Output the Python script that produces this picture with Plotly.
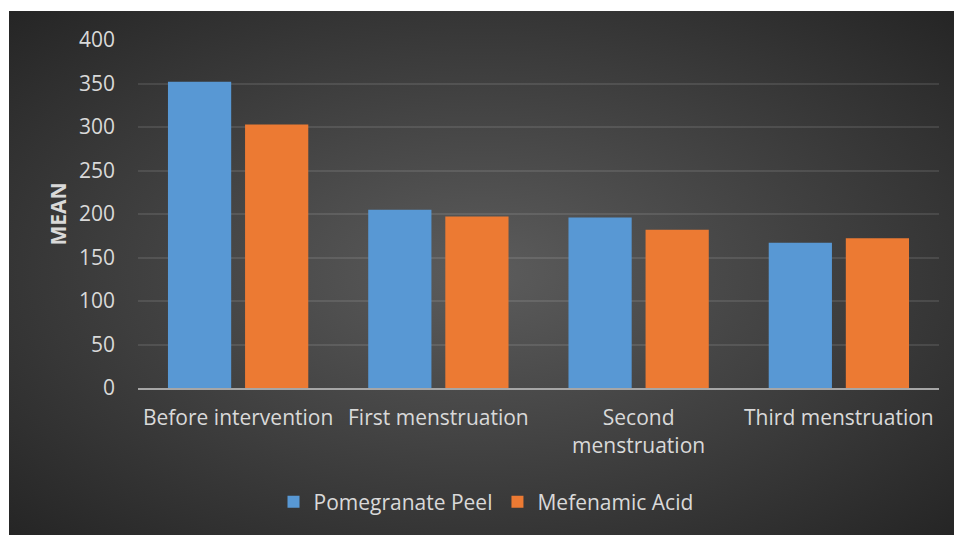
import base64
import plotly.graph_objects as go

categories = ["Before intervention", "First menstruation", "Second<br>menstruation", "Third menstruation"]
pomegranate_peel = [352, 205, 196, 167]
mefenamic_acid = [303, 197, 182, 172]
y_ticks = [0, 50, 100, 150, 200, 250, 300, 350, 400]

W, H = 954, 535
M_L, M_R, M_T, M_B = 138, 15, 40, 147
plot_w = W - M_L - M_R
plot_h = H - M_T - M_B

# radial dark-grey backdrop, drawn as an SVG image behind the plot
svg = """<svg xmlns='http://www.w3.org/2000/svg' width='945' height='524' preserveAspectRatio='none' viewBox='0 0 945 524'>
<defs><radialGradient id='g' cx='0.5' cy='0.5' r='0.72'>
<stop offset='0' stop-color='#5c5c5c'/><stop offset='1' stop-color='#242424'/>
</radialGradient></defs>
<rect x='0' y='0' width='945' height='524' fill='url(#g)'/></svg>"""
bg_uri = "data:image/svg+xml;base64," + base64.b64encode(svg.encode()).decode()

bg_left, bg_top, bg_right, bg_bottom = 9, 11, W, H

text_col = "#d9d9d9"
font_family = "Open Sans, DejaVu Sans, sans-serif"
fs = 21

fig = go.Figure()
fig.add_trace(go.Bar(
    x=categories, y=pomegranate_peel, name="Pomegranate Peel",
    marker=dict(color="#5898d4", line=dict(width=0)),
))
fig.add_trace(go.Bar(
    x=categories, y=mefenamic_acid, name="Mefenamic Acid",
    marker=dict(color="#ec7a33", line=dict(width=0)),
))

fig.update_layout(
    width=W, height=H,
    margin=dict(l=M_L, r=M_R, t=M_T, b=M_B),
    paper_bgcolor="white",
    plot_bgcolor="rgba(0,0,0,0)",
    barmode="group",
    bargap=0.23,
    bargroupgap=0.18,
    font=dict(family=font_family, size=fs, color=text_col),
    images=[dict(
        source=bg_uri, xref="paper", yref="paper",
        x=(bg_left - M_L) / plot_w, y=(M_T + plot_h - bg_top) / plot_h,
        sizex=(bg_right - bg_left) / plot_w, sizey=(bg_bottom - bg_top) / plot_h,
        xanchor="left", yanchor="top", sizing="stretch", layer="below",
    )],
    legend=dict(
        orientation="h", x=(486 - M_L) / plot_w, xanchor="center",
        y=(M_T + plot_h - 502) / plot_h, yanchor="middle",
        font=dict(size=fs, color=text_col), bgcolor="rgba(0,0,0,0)",
        itemwidth=30,
    ),
    showlegend=True,
)
fig.update_xaxes(
    showline=True, linecolor="#a6a6a6", linewidth=2,
    showgrid=False, ticks="", tickfont=dict(size=fs, color=text_col),
    ticklabelstandoff=10,
)
fig.update_yaxes(
    range=[0, 400], tickvals=y_ticks, showgrid=True,
    gridcolor="rgba(255,255,255,0.10)", gridwidth=2,
    zeroline=False, showline=False, ticks="",
    tickfont=dict(size=fs, color=text_col), ticklabelstandoff=22,
    title=dict(text="<b>MEAN</b>", font=dict(size=fs, color=text_col), standoff=6),
)

fig.write_html("out.html")
